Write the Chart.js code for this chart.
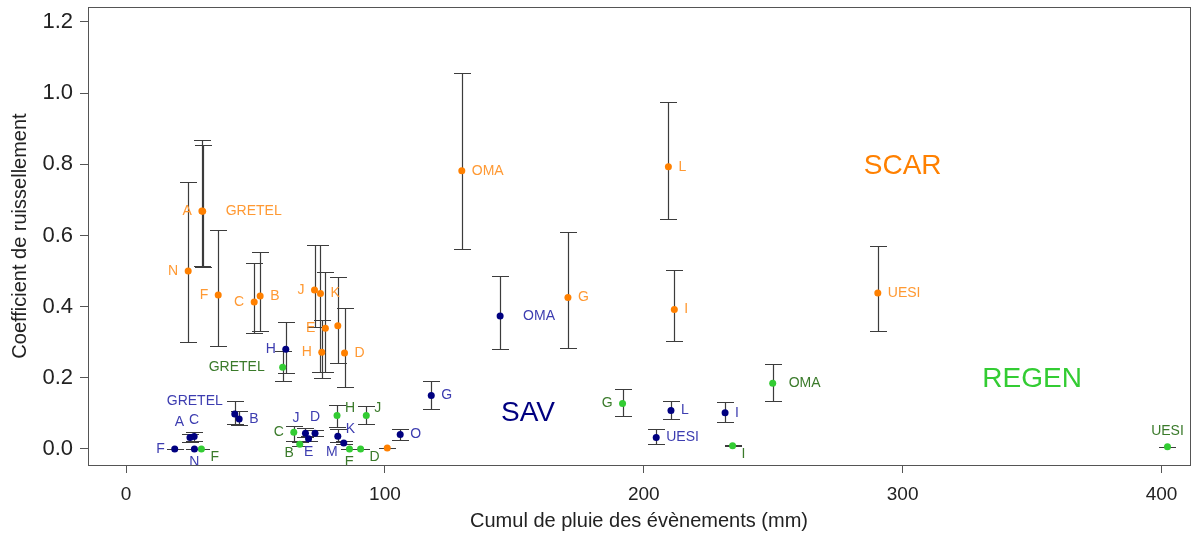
<!doctype html>
<html>
<head>
<meta charset="utf-8">
<title>Coefficient de ruissellement</title>
<script src="https://cdn.jsdelivr.net/npm/chart.js@4.4.1/dist/chart.umd.min.js"></script>
<style>
  html, body { margin: 0; padding: 0; background: #fff; }
  #canvas-holder { width: 1195px; height: 533px; }
</style>
</head>
<body>
<div id="canvas-holder"><canvas id="chart-area" width="1195" height="533"></canvas></div>
<script>
// SCAR (orange)
var scarNames = ['A', 'GRETEL', 'N', 'F', 'C', 'B', 'J', 'K', 'E', '', 'H', 'D', '', 'OMA', 'G', 'L', 'I', 'UESI'];
var scarRain = [29.3, 29.6, 24.0, 35.6, 49.5, 51.8, 72.8, 75.1, 77.0, 81.8, 75.6, 84.4, 100.9, 129.7, 170.7, 209.5, 211.8, 290.4];
var scarCoef = [0.669, 0.668, 0.500, 0.433, 0.413, 0.430, 0.447, 0.437, 0.339, 0.346, 0.272, 0.270, 0.003, 0.782, 0.426, 0.793, 0.392, 0.438];
var scarLow = [0.515, 0.511, 0.300, 0.289, 0.326, 0.331, 0.344, 0.217, 0.217, 0.241, 0.200, 0.175, 0.003, 0.562, 0.284, 0.646, 0.303, 0.331];
var scarHigh = [0.868, 0.855, 0.751, 0.615, 0.522, 0.553, 0.573, 0.573, 0.496, 0.483, 0.362, 0.396, 0.003, 1.057, 0.609, 0.974, 0.503, 0.570];

// SAV (navy)
var savNames = ['F', 'A', 'C', 'N', 'GRETEL', 'B', 'H', 'J', 'D', 'E', 'K', 'M', 'O', 'G', 'OMA', 'UESI', 'L', 'I'];
var savRain = [18.8, 24.7, 26.3, 26.4, 42.0, 43.7, 61.7, 69.3, 73.0, 70.5, 81.8, 84.1, 105.9, 117.9, 144.5, 204.8, 210.5, 231.4];
var savCoef = [0.0, 0.032, 0.035, 0.0, 0.098, 0.084, 0.280, 0.044, 0.044, 0.029, 0.036, 0.017, 0.041, 0.150, 0.374, 0.032, 0.108, 0.102];
var savLow = [0.0, 0.020, 0.022, 0.0, 0.070, 0.067, 0.214, 0.033, 0.036, 0.022, 0.020, 0.013, 0.025, 0.112, 0.280, 0.013, 0.083, 0.076];
var savHigh = [0.0, 0.043, 0.048, 0.0, 0.134, 0.108, 0.358, 0.058, 0.052, 0.036, 0.055, 0.022, 0.057, 0.192, 0.487, 0.055, 0.135, 0.133];

// REGEN (green)
var regenNames = ['F', 'GRETEL', 'C', 'B', 'H', 'E', 'D', 'J', 'G', 'I', 'OMA', 'UESI'];
var regenRain = [29.1, 60.5, 64.8, 67.1, 81.5, 86.3, 90.6, 92.8, 191.8, 234.3, 249.8, 402.3];
var regenCoef = [0.0, 0.230, 0.047, 0.013, 0.094, 0.0, 0.0, 0.094, 0.128, 0.009, 0.185, 0.006];
var regenLow = [0.0, 0.191, 0.023, 0.008, 0.063, 0.0, 0.0, 0.071, 0.093, 0.007, 0.136, 0.006];
var regenHigh = [0.0, 0.276, 0.065, 0.020, 0.124, 0.0, 0.0, 0.121, 0.169, 0.011, 0.238, 0.006];

var groupNames = ['SCAR', 'SAV', 'REGEN'];
var groupLabelRain = [300, 155.3, 350];
var groupLabelCoef = [0.795, 0.101, 0.197];

var xTicks = [0, 100, 200, 300, 400];
var yTicks = [0.0, 0.2, 0.4, 0.6, 0.8, 1.0, 1.2];

// where each point label sits relative to its dot
var scarLabelPos = ['l', 'rr', 'l', 'l', 'l', 'r', 'l', 'r', 'l', '', 'l', 'r', '', 'r', 'r', 'r', 'r', 'r'];
var savLabelPos = ['l', 'tl', 't', 'b', 'tll', 'r', 'l', 'tl', 't', 'b', 'tr', 'bl', 'r', 'r', 'rr', 'r', 'r', 'r'];
var regenLabelPos = ['br', 'll', 'l', 'bl', 'tr', 'b', 'br', 'tr', 'l', 'br', 'rm', 't'];

var offsets = {
  l: [-10, 0, 'right'], ll: [-18, 0, 'right'],
  r: [10, 0, 'left'], rm: [16, 0, 'left'], rr: [23, 0, 'left'],
  t: [0, -16, 'center'], b: [0, 13, 'center'],
  tl: [-6, -15, 'right'], tll: [-12, -13, 'right'],
  tr: [8, -7, 'left'], bl: [-6, 9, 'right'], br: [9, 8, 'left']
};

function points(names, rain, coef, low, high, pos) {
  var out = [];
  for (var i = 0; i < names.length; i++) {
    out.push({ x: rain[i], y: coef[i], low: low[i], high: high[i], name: names[i], pos: pos[i] });
  }
  return out;
}

var errorBars = {
  id: 'errorBars',
  beforeDatasetsDraw: function(chart) {
    var ctx = chart.ctx, xs = chart.scales.x, ys = chart.scales.y;
    ctx.save();
    ctx.strokeStyle = '#3c3c3c';
    ctx.lineWidth = 1.2;
    chart.data.datasets.forEach(function(ds) {
      ds.data.forEach(function(p) {
        var x = Math.round(xs.getPixelForValue(p.x)) + 0.5;
        var y1 = Math.round(ys.getPixelForValue(p.low)) + 0.5;
        var y2 = Math.round(ys.getPixelForValue(p.high)) + 0.5;
        ctx.beginPath();
        ctx.moveTo(x, y1); ctx.lineTo(x, y2);
        ctx.moveTo(x - 8.5, y1); ctx.lineTo(x + 8.5, y1);
        ctx.moveTo(x - 8.5, y2); ctx.lineTo(x + 8.5, y2);
        ctx.stroke();
      });
    });
    ctx.restore();
  }
};

var pointLabels = {
  id: 'pointLabels',
  afterDatasetsDraw: function(chart) {
    var ctx = chart.ctx, xs = chart.scales.x, ys = chart.scales.y;
    var a = chart.chartArea;
    ctx.save();
    ctx.font = '14px "Liberation Sans", Arial, sans-serif';
    ctx.textBaseline = 'middle';
    chart.data.datasets.forEach(function(ds) {
      ctx.fillStyle = ds.labelColor;
      ds.data.forEach(function(p) {
        if (!p.name) return;
        var o = offsets[p.pos];
        ctx.textAlign = o[2];
        ctx.fillText(p.name, xs.getPixelForValue(p.x) + o[0], ys.getPixelForValue(p.y) + o[1]);
      });
    });
    ctx.font = '28px "Liberation Sans", Arial, sans-serif';
    ctx.textAlign = 'center';
    var groupColors = ['#ff8000', '#000080', '#33cc33'];
    for (var i = 0; i < groupNames.length; i++) {
      ctx.fillStyle = groupColors[i];
      ctx.fillText(groupNames[i], xs.getPixelForValue(groupLabelRain[i]), ys.getPixelForValue(groupLabelCoef[i]));
    }
    // frame round the plot
    ctx.strokeStyle = '#555';
    ctx.lineWidth = 1;
    ctx.strokeRect(Math.round(a.left) + 0.5, Math.round(a.top) + 0.5, Math.round(a.right - a.left), Math.round(a.bottom - a.top));
    ctx.restore();
  }
};

var fontFamily = '"Liberation Sans", Arial, sans-serif';
var titleFont = { family: fontFamily, size: 20 };

var config = {
  type: 'scatter',
  data: {
    datasets: [{
      label: 'SCAR',
      data: points(scarNames, scarRain, scarCoef, scarLow, scarHigh, scarLabelPos),
      backgroundColor: '#ff8000',
      labelColor: '#ff9933',
      pointRadius: 3.5, pointBorderWidth: 0
    }, {
      label: 'SAV',
      data: points(savNames, savRain, savCoef, savLow, savHigh, savLabelPos),
      backgroundColor: '#000080',
      labelColor: '#3d3db0',
      pointRadius: 3.5, pointBorderWidth: 0
    }, {
      label: 'REGEN',
      data: points(regenNames, regenRain, regenCoef, regenLow, regenHigh, regenLabelPos),
      backgroundColor: '#33cc33',
      labelColor: '#3a7a2a',
      pointRadius: 3.5, pointBorderWidth: 0
    }]
  },
  options: {
    responsive: false,
    animation: false,
    devicePixelRatio: 1,
    layout: { padding: { left: 0, right: 5, top: 7, bottom: 0 } },
    plugins: { legend: { display: false }, tooltip: { enabled: false } },
    scales: {
      x: {
        type: 'linear',
        min: -14.7, max: 411,
        afterBuildTicks: function(s) { s.ticks = xTicks.map(function(v) { return { value: v }; }); },
        afterFit: function(s) { s.height = 68; s.paddingLeft = 0; s.paddingRight = 0; },
        grid: { drawOnChartArea: false, tickLength: 8, color: '#555' },
        border: { display: false },
        ticks: { font: { family: fontFamily, size: 19 }, color: '#222', padding: 10, maxRotation: 0, callback: function(v) { return String(v); } },
        title: { display: true, text: 'Cumul de pluie des évènements (mm)', font: titleFont, color: '#222', padding: { top: 0, bottom: 0 } }
      },
      y: {
        type: 'linear',
        min: -0.045, max: 1.242,
        afterBuildTicks: function(s) { s.ticks = yTicks.map(function(v) { return { value: v }; }); },
        afterFit: function(s) { s.width = 88; s.paddingTop = 0; s.paddingBottom = 0; },
        grid: { drawOnChartArea: false, tickLength: 8, color: '#555' },
        border: { display: false },
        ticks: { font: { family: fontFamily, size: 22 }, color: '#222', padding: 7, callback: function(v) { return v.toFixed(1); } },
        title: { display: true, text: 'Coefficient de ruissellement', font: titleFont, color: '#222', padding: { top: 8, bottom: 0 } }
      }
    }
  },
  plugins: [errorBars, pointLabels]
};

window.onload = function() {
  var ctx = document.getElementById('chart-area').getContext('2d');
  window.myScatter = new Chart(ctx, config);
};
</script>
</body>
</html>
